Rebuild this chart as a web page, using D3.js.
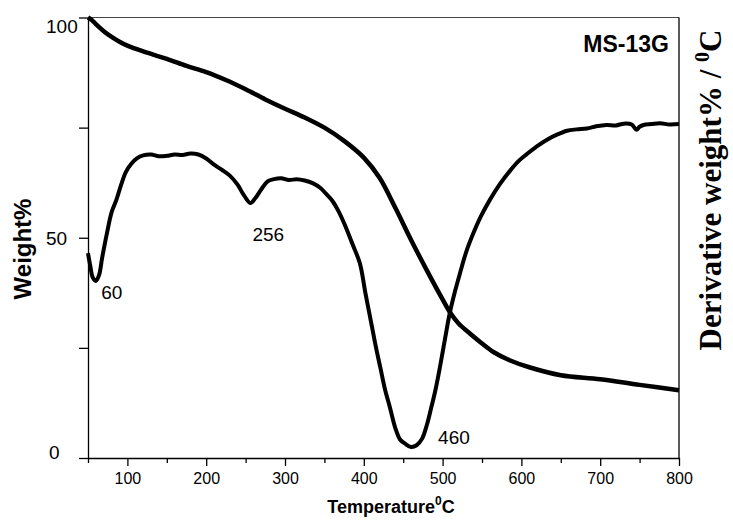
<!DOCTYPE html>
<html>
<head>
<meta charset="utf-8">
<script src="https://cdn.jsdelivr.net/npm/d3@7"></script>
<style>
  body { margin: 0; background: #fff; }
  svg { display: block; }
  .tick text { fill: #000; }
</style>
</head>
<body>
<svg id="chart" width="733" height="520"></svg>
<script>
// Thermogravimetric curve: temperature (°C) vs. remaining weight (%)
const tgTemp = [50, 55, 60, 70, 80, 90, 100, 125, 150, 175, 200, 225, 250, 275, 300, 325, 350, 375, 400, 420, 440, 460, 480, 500, 510, 520, 535, 550, 565, 585, 610, 650, 700, 750, 800];
const tgWeight = [100, 99.4, 98.5, 96.9, 95.6, 94.5, 93.6, 92.0, 90.6, 89.0, 87.6, 85.8, 83.7, 81.4, 79.3, 77.3, 75.0, 72.0, 68.2, 63.6, 56.8, 49.5, 42.6, 36.0, 32.9, 30.6, 28.2, 26.0, 24.0, 22.2, 20.6, 18.8, 17.9, 16.6, 15.4];

// Derivative curve (relative units on the unlabelled right axis)
const dtgTemp = [50, 53, 56, 60, 64, 68, 74, 80, 86, 92, 98, 105, 112, 120, 130, 140, 150, 160, 170, 180, 190, 200, 210, 220, 230, 240, 248, 256, 262, 270, 278, 286, 295, 305, 315, 325, 335, 345, 352, 360, 368, 376, 386, 395, 402, 408, 415, 421, 427, 433, 440, 446, 452, 460, 467, 474, 480, 485, 491, 497, 503, 509, 516, 522, 530, 539, 549, 560, 572, 586, 597, 607, 620, 632, 645, 658, 670, 683, 695, 708, 720, 730, 740, 746, 750, 755, 765, 776, 788, 800];
const dtgValue = [46.5, 43.5, 41.0, 40.2, 41.5, 45.5, 51.0, 55.8, 58.6, 62.0, 64.9, 66.8, 68.0, 68.7, 68.9, 68.5, 68.6, 68.9, 68.8, 69.1, 68.9, 68.0, 66.6, 65.4, 64.1, 62.0, 59.6, 57.9, 58.9, 61.0, 62.8, 63.3, 63.5, 63.1, 63.3, 63.0, 62.4, 61.3, 60.0, 58.4, 56.0, 52.9, 48.4, 44.2, 37.5, 32.0, 25.5, 20.5, 15.5, 11.6, 6.8, 4.2, 3.3, 2.5, 2.9, 4.4, 7.5, 11.0, 15.5, 21.0, 27.0, 32.8, 38.0, 41.9, 46.8, 51.0, 55.0, 58.6, 62.0, 65.3, 67.5, 69.0, 70.8, 72.2, 73.4, 74.3, 74.6, 74.8, 75.3, 75.6, 75.5, 75.9, 75.7, 74.5, 75.2, 75.6, 75.8, 76.0, 75.7, 75.8];

// Peak temperatures annotated on the derivative curve
const peakTemps = [60, 256, 460];

// Axis ticks
const xMajorTicks = [100, 200, 300, 400, 500, 600, 700, 800];
const xMinorTicks = [50, 150, 250, 350, 450, 550, 650, 750];
const yTicks = [0, 25, 50, 75, 100];
const yLabelled = [0, 50, 100];

const sampleName = "MS-13G";

const W = 733, H = 520;
const margin = {top: 17.5, right: 54, bottom: 62, left: 88};
const svg = d3.select("#chart");

const x = d3.scaleLinear().domain([50, 800]).range([margin.left, W - margin.right]);
const y = d3.scaleLinear().domain([0, 100]).range([H - margin.bottom, margin.top]);
const yD = d3.scaleLinear().domain([0, 100]).range([H - margin.bottom, margin.top]);

const tgData = tgTemp.map((t, i) => ({t, v: tgWeight[i]}));
const dtgData = dtgTemp.map((t, i) => ({t, v: dtgValue[i]}));

// Frame: thin top border and right axis line
svg.append("line")
  .attr("x1", x(50)).attr("x2", x(800))
  .attr("y1", y(100)).attr("y2", y(100))
  .attr("stroke", "#444").attr("stroke-width", 1);
svg.append("line")
  .attr("x1", x(800)).attr("x2", x(800))
  .attr("y1", y(100)).attr("y2", y(0))
  .attr("stroke", "#000").attr("stroke-width", 1.3);

// Bottom axis: labelled major ticks plus short minor ticks
const xAxis = svg.append("g")
  .attr("transform", `translate(0,${y(0)})`)
  .call(d3.axisBottom(x).tickValues(xMajorTicks).tickSize(8).tickSizeOuter(0).tickPadding(7));
xAxis.select(".domain").attr("stroke", "#000").attr("stroke-width", 1.3);
xAxis.selectAll(".tick line").attr("stroke", "#000").attr("stroke-width", 1.3);
xAxis.selectAll(".tick text")
  .attr("font-family", "Liberation Sans, Arial, sans-serif")
  .attr("font-size", 16);

const xMinor = svg.append("g")
  .attr("transform", `translate(0,${y(0)})`)
  .call(d3.axisBottom(x).tickValues(xMinorTicks).tickSize(5).tickSizeOuter(0).tickFormat(""));
xMinor.select(".domain").remove();
xMinor.selectAll(".tick line").attr("stroke", "#000").attr("stroke-width", 1.3);

// Left axis
const yAxis = svg.append("g")
  .attr("transform", `translate(${x(50)},0)`)
  .call(d3.axisLeft(y).tickValues(yTicks).tickSize(9).tickSizeOuter(0)
    .tickFormat(d => yLabelled.includes(d) ? d : ""));
yAxis.select(".domain").attr("stroke", "#000").attr("stroke-width", 1.3);
yAxis.selectAll(".tick line").attr("stroke", "#000").attr("stroke-width", 1.3);
yAxis.selectAll(".tick text")
  .attr("font-family", "Liberation Sans, Arial, sans-serif")
  .attr("font-size", 19)
  .attr("text-anchor", "start")
  .attr("x", d => d === 0 ? -39 : -42)
  .attr("dy", d => d === 100 ? "0.8em" : d === 0 ? "0.05em" : "0.36em");

// Curves
const line = (scale) => d3.line()
  .x(d => x(d.t))
  .y(d => scale(d.v))
  .curve(d3.curveCatmullRom.alpha(0.5));

svg.append("path")
  .datum(tgData)
  .attr("fill", "none")
  .attr("stroke", "#000")
  .attr("stroke-width", 4.5)
  .attr("stroke-linejoin", "round")
  .attr("d", line(y));

svg.append("path")
  .datum(dtgData)
  .attr("fill", "none")
  .attr("stroke", "#000")
  .attr("stroke-width", 4)
  .attr("stroke-linejoin", "round")
  .attr("d", line(yD));

// Peak labels placed next to each minimum of the derivative curve
const peakOffsets = {60: [16, 18], 256: [18, 38], 460: [27, -3]};
peakTemps.forEach(p => {
  const v = dtgData.find(d => d.t === p).v;
  const [dx, dy] = peakOffsets[p];
  svg.append("text")
    .attr("x", x(p) + dx)
    .attr("y", yD(v) + dy)
    .attr("font-family", "Liberation Sans, Arial, sans-serif")
    .attr("font-size", 19)
    .attr("text-anchor", p === 460 ? "start" : "middle")
    .text(p);
});

// Sample name
svg.append("text")
  .attr("x", 669).attr("y", 52)
  .attr("text-anchor", "end")
  .attr("font-family", "Liberation Sans, Arial, sans-serif")
  .attr("font-weight", "bold")
  .attr("font-size", 23)
  .text(sampleName);

// Axis titles
svg.append("text")
  .attr("transform", `translate(31,249) rotate(-90)`)
  .attr("text-anchor", "middle")
  .attr("font-family", "Liberation Sans, Arial, sans-serif")
  .attr("font-weight", "bold")
  .attr("font-size", 24)
  .text("Weight%");

const xt = svg.append("text")
  .attr("x", 391).attr("y", 513)
  .attr("text-anchor", "middle")
  .attr("font-family", "Liberation Sans, Arial, sans-serif")
  .attr("font-weight", "bold")
  .attr("font-size", 18);
xt.append("tspan").text("Temperature");
xt.append("tspan").attr("dy", -8).attr("font-size", 12).text("0");
xt.append("tspan").attr("dy", 8).text("C");

const rt = svg.append("text")
  .attr("transform", `translate(721,190) rotate(-90)`)
  .attr("text-anchor", "middle")
  .attr("font-family", "Liberation Serif, Times New Roman, serif")
  .attr("font-weight", "bold")
  .attr("font-size", 31);
rt.append("tspan").text("Derivative weight% / ");
rt.append("tspan").attr("dy", -12).attr("font-size", 20).text("0");
rt.append("tspan").attr("dy", 12).text("C");
</script>
</body>
</html>
